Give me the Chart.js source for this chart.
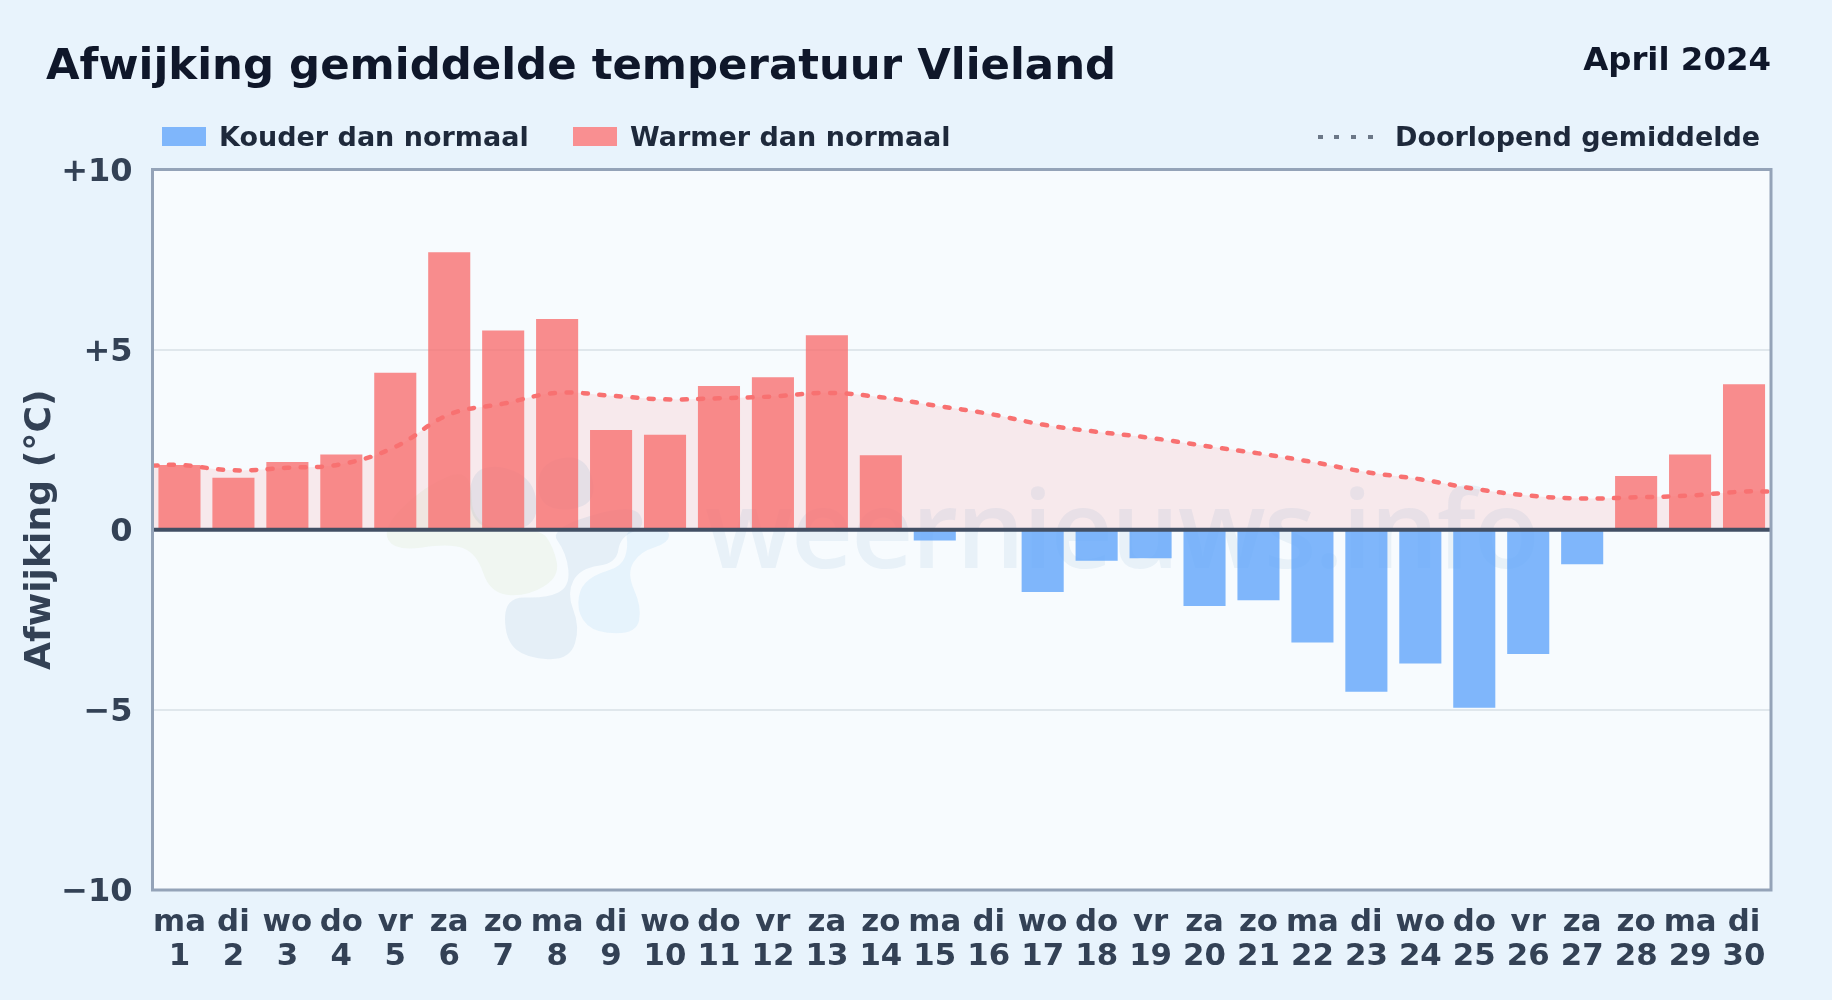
<!DOCTYPE html>
<html>
<head>
<meta charset="utf-8">
<title>Afwijking gemiddelde temperatuur Vlieland</title>
<script src="https://cdn.jsdelivr.net/npm/chart.js@4"></script>
<style>
  html, body { margin: 0; padding: 0; background: #e8f3fc; }
  body { position: relative; width: 1832px; height: 1000px; overflow: hidden; font-family: "DejaVu Sans", sans-serif; font-weight: bold; }
  canvas { position: absolute; left: 0; top: 0; }
  .txt { position: absolute; white-space: nowrap; line-height: 1; }
  #title { left: 46px; top: 43px; font-size: 43.4px; color: #0f172a; }
  #period { right: 61px; top: 43px; font-size: 32.4px; color: #0f172a; }
  .leg { top: 123px; font-size: 27px; color: #1e293b; }
  .swatch { position: absolute; top: 127px; width: 44px; height: 19px; }
  .dot { position: absolute; top: 135px; width: 5px; height: 4px; background: #6b7787; }
</style>
</head>
<body>
<canvas id="chart" width="1832" height="1000"></canvas>
<div class="txt" id="title">Afwijking gemiddelde temperatuur Vlieland</div>
<div class="txt" id="period">April 2024</div>
<div class="swatch" style="left:162px;background:#7fb6fb"></div>
<div class="txt leg" style="left:219px">Kouder dan normaal</div>
<div class="swatch" style="left:573px;background:#f98f91"></div>
<div class="txt leg" style="left:630px">Warmer dan normaal</div>
<div class="dot" style="left:1318px"></div>
<div class="dot" style="left:1334px"></div>
<div class="dot" style="left:1351px"></div>
<div class="dot" style="left:1368px"></div>
<div class="txt leg" style="left:1395px">Doorlopend gemiddelde</div>
<script>
var weekdays = ["ma","di","wo","do","vr","za","zo","ma","di","wo","do","vr","za","zo","ma","di","wo","do","vr","za","zo","ma","di","wo","do","vr","za","zo","ma","di"];
var days = [1,2,3,4,5,6,7,8,9,10,11,12,13,14,15,16,17,18,19,20,21,22,23,24,25,26,27,28,29,30];
var warmer = [1.8,1.44,1.88,2.09,4.36,7.7,5.53,5.85,2.77,2.64,3.99,4.23,5.4,2.07,null,null,null,null,null,null,null,null,null,null,null,null,null,1.49,2.09,4.04];
var colder = [null,null,null,null,null,null,null,null,null,null,null,null,null,null,-0.3,0,-1.73,-0.86,-0.79,-2.12,-1.96,-3.13,-4.5,-3.71,-4.94,-3.45,-0.96,null,null,null];
var running = [1.8,1.65,1.72,1.82,2.3,3.2,3.5,3.8,3.72,3.62,3.65,3.7,3.8,3.68,3.45,3.22,2.92,2.72,2.55,2.33,2.12,1.88,1.6,1.4,1.14,0.95,0.87,0.9,0.95,1.06];
var runningStart = 1.78;
var runningEnd = 1.06;
var yTicks = {"10":"+10","5":"+5","0":"0","-5":"\u22125","-10":"\u221210"};

// running mean runs edge to edge, so it sits on its own hidden x axis
var runningPoints = [{x:0,y:runningStart}];
running.forEach(function(v,i){ runningPoints.push({x:i+0.5,y:v}); });
runningPoints.push({x:days.length,y:runningEnd});

// logo shapes, points measured from a 3x crop with origin 340,420
function blob(ctx, color, pts) {
  var p2 = pts.map(function(p){ return [340+p[0]/3,420+p[1]/3]; });
  var n = p2.length;
  ctx.fillStyle = color;
  ctx.beginPath();
  ctx.moveTo((p2[n-1][0]+p2[0][0])/2,(p2[n-1][1]+p2[0][1])/2);
  for (var i=0;i<n;i++) {
    var p = p2[i], q = p2[(i+1)%n];
    ctx.quadraticCurveTo(p[0],p[1],(p[0]+q[0])/2,(p[1]+q[1])/2);
  }
  ctx.closePath();
  ctx.fill();
}

var framePlugin = {
  id: "frame",
  beforeDraw: function(chart) {
    var a = chart.chartArea, ctx = chart.ctx;
    ctx.save();
    ctx.fillStyle = "#f7fbfe";
    ctx.fillRect(a.left,a.top,a.right-a.left,a.bottom-a.top);
    ctx.restore();
  },
  beforeDatasetsDraw: function(chart) {
    var a = chart.chartArea, ctx = chart.ctx;
    ctx.save();
    // watermark, under the bars
    ctx.beginPath();
    ctx.rect(a.left,a.top,a.right-a.left,a.bottom-a.top);
    ctx.clip();
    var green = "rgba(190,215,150,0.12)", navy = "rgba(60,125,180,0.09)", sky = "rgba(100,185,240,0.11)";
    blob(ctx,green,[[125,325],[165,395],[330,370],[410,400],[450,520],[560,530],[660,470],[640,380],[600,325],[395,325],[395,140],[250,200]]);
    blob(ctx,navy,[[385,160],[480,130],[590,190],[590,332],[395,332]]);
    blob(ctx,navy,[[590,130],[740,100],[775,260],[600,275]]);
    blob(ctx,navy,[[495,530],[620,535],[690,500],[680,400],[625,325],[880,250],[920,320],[840,350],[830,430],[720,445],[680,520],[720,620],[690,720],[560,715],[495,660]]);
    blob(ctx,sky,[[715,510],[760,465],[845,440],[865,380],[855,325],[990,325],[985,370],[900,395],[860,460],[905,560],[890,640],[770,640],[715,590]]);
    ctx.font = "600 108px 'Open Sans'";
    ctx.fillStyle = "rgba(60,125,180,0.075)";
    ctx.textAlign = "left";
    ctx.textBaseline = "alphabetic";
    ctx.letterSpacing = "-2px";
    ctx.fillText("weernieuws.info",705,568);
    ctx.restore();
  },
  afterDatasetsDraw: function(chart) {
    // zero line on top of the bars
    var a = chart.chartArea, ctx = chart.ctx;
    var y0 = chart.scales.y.getPixelForValue(0);
    ctx.save();
    ctx.strokeStyle = "#424f64";
    ctx.lineWidth = 4;
    ctx.beginPath();
    ctx.moveTo(a.left,y0);
    ctx.lineTo(a.right,y0);
    ctx.stroke();
    ctx.restore();
  },
  afterDraw: function(chart) {
    var a = chart.chartArea, ctx = chart.ctx;
    ctx.save();
    ctx.strokeStyle = "#94a3b8";
    ctx.lineWidth = 3;
    ctx.strokeRect(a.left,a.top,a.right-a.left,a.bottom-a.top);
    ctx.restore();
  }
};

new Chart(document.getElementById("chart"), {
  type: "bar",
  plugins: [framePlugin],
  data: {
    labels: weekdays.map(function(w,i){ return [w,String(days[i])]; }),
    datasets: [
      {
        label: "Doorlopend gemiddelde",
        type: "line",
        xAxisID: "x2",
        data: runningPoints,
        borderColor: "#f87171",
        borderWidth: 4.5,
        borderDash: [5,11.5],
        borderCapStyle: "round",
        pointRadius: 0,
        tension: 0.4,
        fill: "origin",
        backgroundColor: "rgba(248,113,113,0.13)",
        order: 0
      },
      { label: "Kouder dan normaal", data: colder, backgroundColor: "rgba(96,165,250,0.8)", order: 1 },
      { label: "Warmer dan normaal", data: warmer, backgroundColor: "rgba(248,113,113,0.8)", order: 1 }
    ]
  },
  options: {
    responsive: false,
    animation: false,
    devicePixelRatio: 1,
    layout: { padding: { left: 0, top: 169.5, right: 61, bottom: 0 } },
    datasets: { bar: { grouped: false, categoryPercentage: 1, barPercentage: 0.78 } },
    plugins: {
      legend: { display: false },
      title: { display: false },
      tooltip: { enabled: false },
      filler: { drawTime: "beforeDatasetsDraw" }
    },
    scales: {
      x: {
        offset: true,
        grid: { display: false },
        border: { display: false },
        afterFit: function(s){ s.height = 110; },
        ticks: {
          color: "#334155",
          font: { family: "DejaVu Sans", size: 30.8, weight: "bold", lineHeight: 1.1 },
          maxRotation: 0,
          autoSkip: false,
          padding: 8
        }
      },
      x2: { type: "linear", display: false, min: 0, max: 30, offset: false },
      y: {
        min: -10,
        max: 10,
        afterFit: function(s){ s.width = 152.5; },
        border: { display: false },
        grid: { color: "#e0e7ec", lineWidth: 2, drawTicks: false },
        title: {
          display: true,
          text: "Afwijking (\u00b0C)",
          color: "#334155",
          font: { family: "DejaVu Sans", size: 36.2, weight: "bold" },
          padding: { top: 19, bottom: 0 }
        },
        ticks: {
          stepSize: 5,
          color: "#334155",
          font: { family: "DejaVu Sans", size: 32, weight: "bold" },
          padding: 20,
          labelOffset: 3,
          callback: function(v){ return yTicks[v]; }
        }
      }
    }
  }
});
</script>
</body>
</html>
